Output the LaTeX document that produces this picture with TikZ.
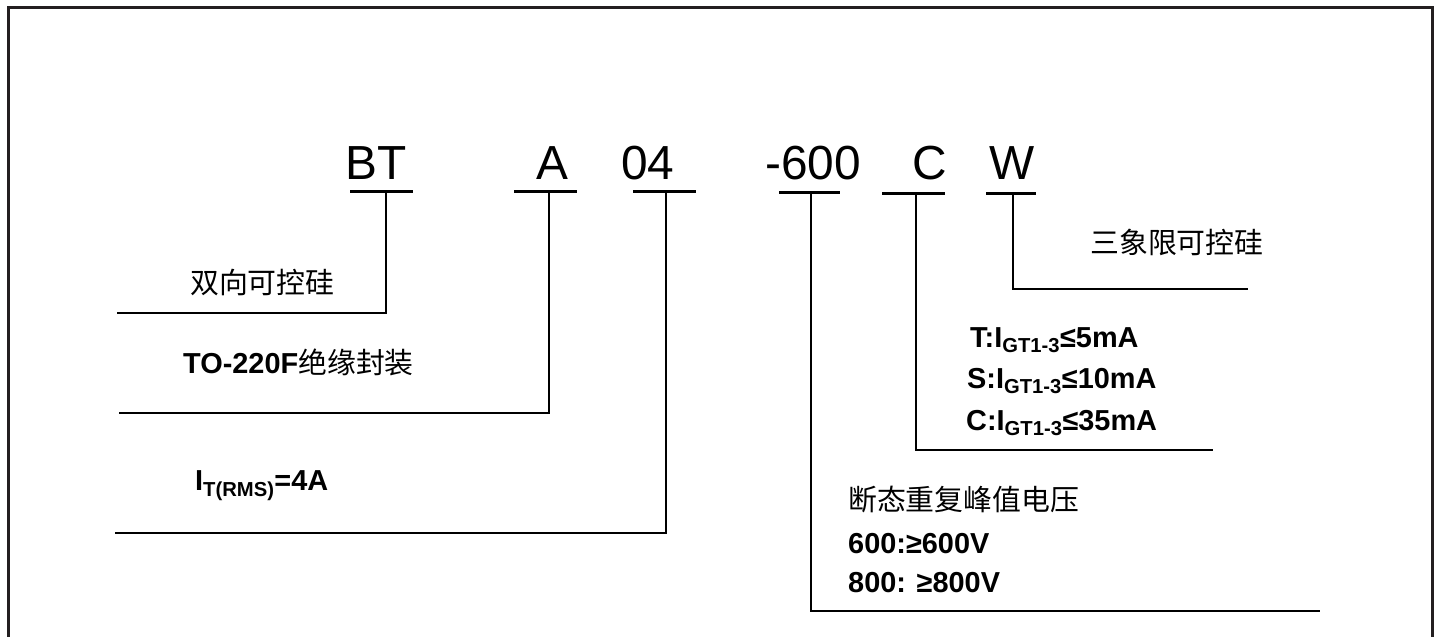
\documentclass[tikz,border=0pt]{standalone}
\usepackage{fontspec}
\setmainfont{Liberation Sans}
\newfontfamily\cjk{Noto Sans CJK SC}
\newcommand{\zh}[1]{{\cjk\mdseries #1}}
\definecolor{framegray}{HTML}{231F20}

\tikzset{
  code/.style={anchor=base west, inner sep=0pt, font=\fontsize{48}{48}\selectfont},
  note/.style={anchor=base west, inner sep=0pt, font=\fontsize{29}{29}\selectfont\bfseries},
  underline/.style={line width=3bp},
  leader/.style={line width=2.6bp},
}

\begin{document}
\begin{tikzpicture}[x=1bp, y=-1bp]
    \useasboundingbox (0,0) rectangle (1436,637);
    \draw[framegray, line width=3bp] (8,637) -- (8,8) -- (1432,8) -- (1432,637);

    % code letters
    \node[code] (bt) at (345,180) {BT};
    \node[code] (a) at (536,180) {A};
    \node[code] (n04) at (621,180) {04};
    \node[code] (v600) at (765,180) {-600};
    \node[code] (c) at (912,180) {C};
    \node[code] (w) at (989,180) {W};

    % underlines and leaders
    \coordinate (bt-l) at (350,192); \coordinate (bt-r) at (413,192);
    \coordinate (bt-t) at (386,192); \coordinate (bt-e) at (117,313);
    \draw[underline] (bt-l) -- (bt-r);
    \draw[leader] (bt-t) |- (bt-e);

    \coordinate (a-l) at (514,192); \coordinate (a-r) at (577,192);
    \coordinate (a-t) at (549,192); \coordinate (a-e) at (119,413);
    \draw[underline] (a-l) -- (a-r);
    \draw[leader] (a-t) |- (a-e);

    \coordinate (n04-l) at (633,192); \coordinate (n04-r) at (696,192);
    \coordinate (n04-t) at (666,192); \coordinate (n04-e) at (115,533);
    \draw[underline] (n04-l) -- (n04-r);
    \draw[leader] (n04-t) |- (n04-e);

    \coordinate (v600-l) at (779,193); \coordinate (v600-r) at (840,193);
    \coordinate (v600-t) at (811,193); \coordinate (v600-e) at (1320,611);
    \draw[underline] (v600-l) -- (v600-r);
    \draw[leader] (v600-t) |- (v600-e);

    \coordinate (c-l) at (882,194); \coordinate (c-r) at (945,194);
    \coordinate (c-t) at (916,194); \coordinate (c-e) at (1213,450);
    \draw[underline] (c-l) -- (c-r);
    \draw[leader] (c-t) |- (c-e);

    \coordinate (w-l) at (986,194); \coordinate (w-r) at (1036,194);
    \coordinate (w-t) at (1013,194); \coordinate (w-e) at (1248,289);
    \draw[underline] (w-l) -- (w-r);
    \draw[leader] (w-t) |- (w-e);

    % notes
    \node[note] (bt-note) at (190,293) {\zh{双向可控硅}};
    \node[note] (a-note) at (183,373) {TO-220F\zh{绝缘封装}};
    \node[note] (n04-note) at (195,490) {I\textsubscript{T(RMS)}=4A};
    \node[note] (w-note) at (1090,253) {\zh{三象限可控硅}};
    \node[note] (c-note1) at (970,347) {T:I\textsubscript{GT1-3}≤5mA};
    \node[note] (c-note2) at (967,388) {S:I\textsubscript{GT1-3}≤10mA};
    \node[note] (c-note3) at (966,430) {C:I\textsubscript{GT1-3}≤35mA};
    \node[note] (v600-note) at (848,510) {\zh{断态重复峰值电压}};
    \node[note] (v600-note1) at (848,553) {600:≥600V};
    \node[note] (v600-note2) at (848,592) {800: ≥800V};
\end{tikzpicture}
\end{document}
